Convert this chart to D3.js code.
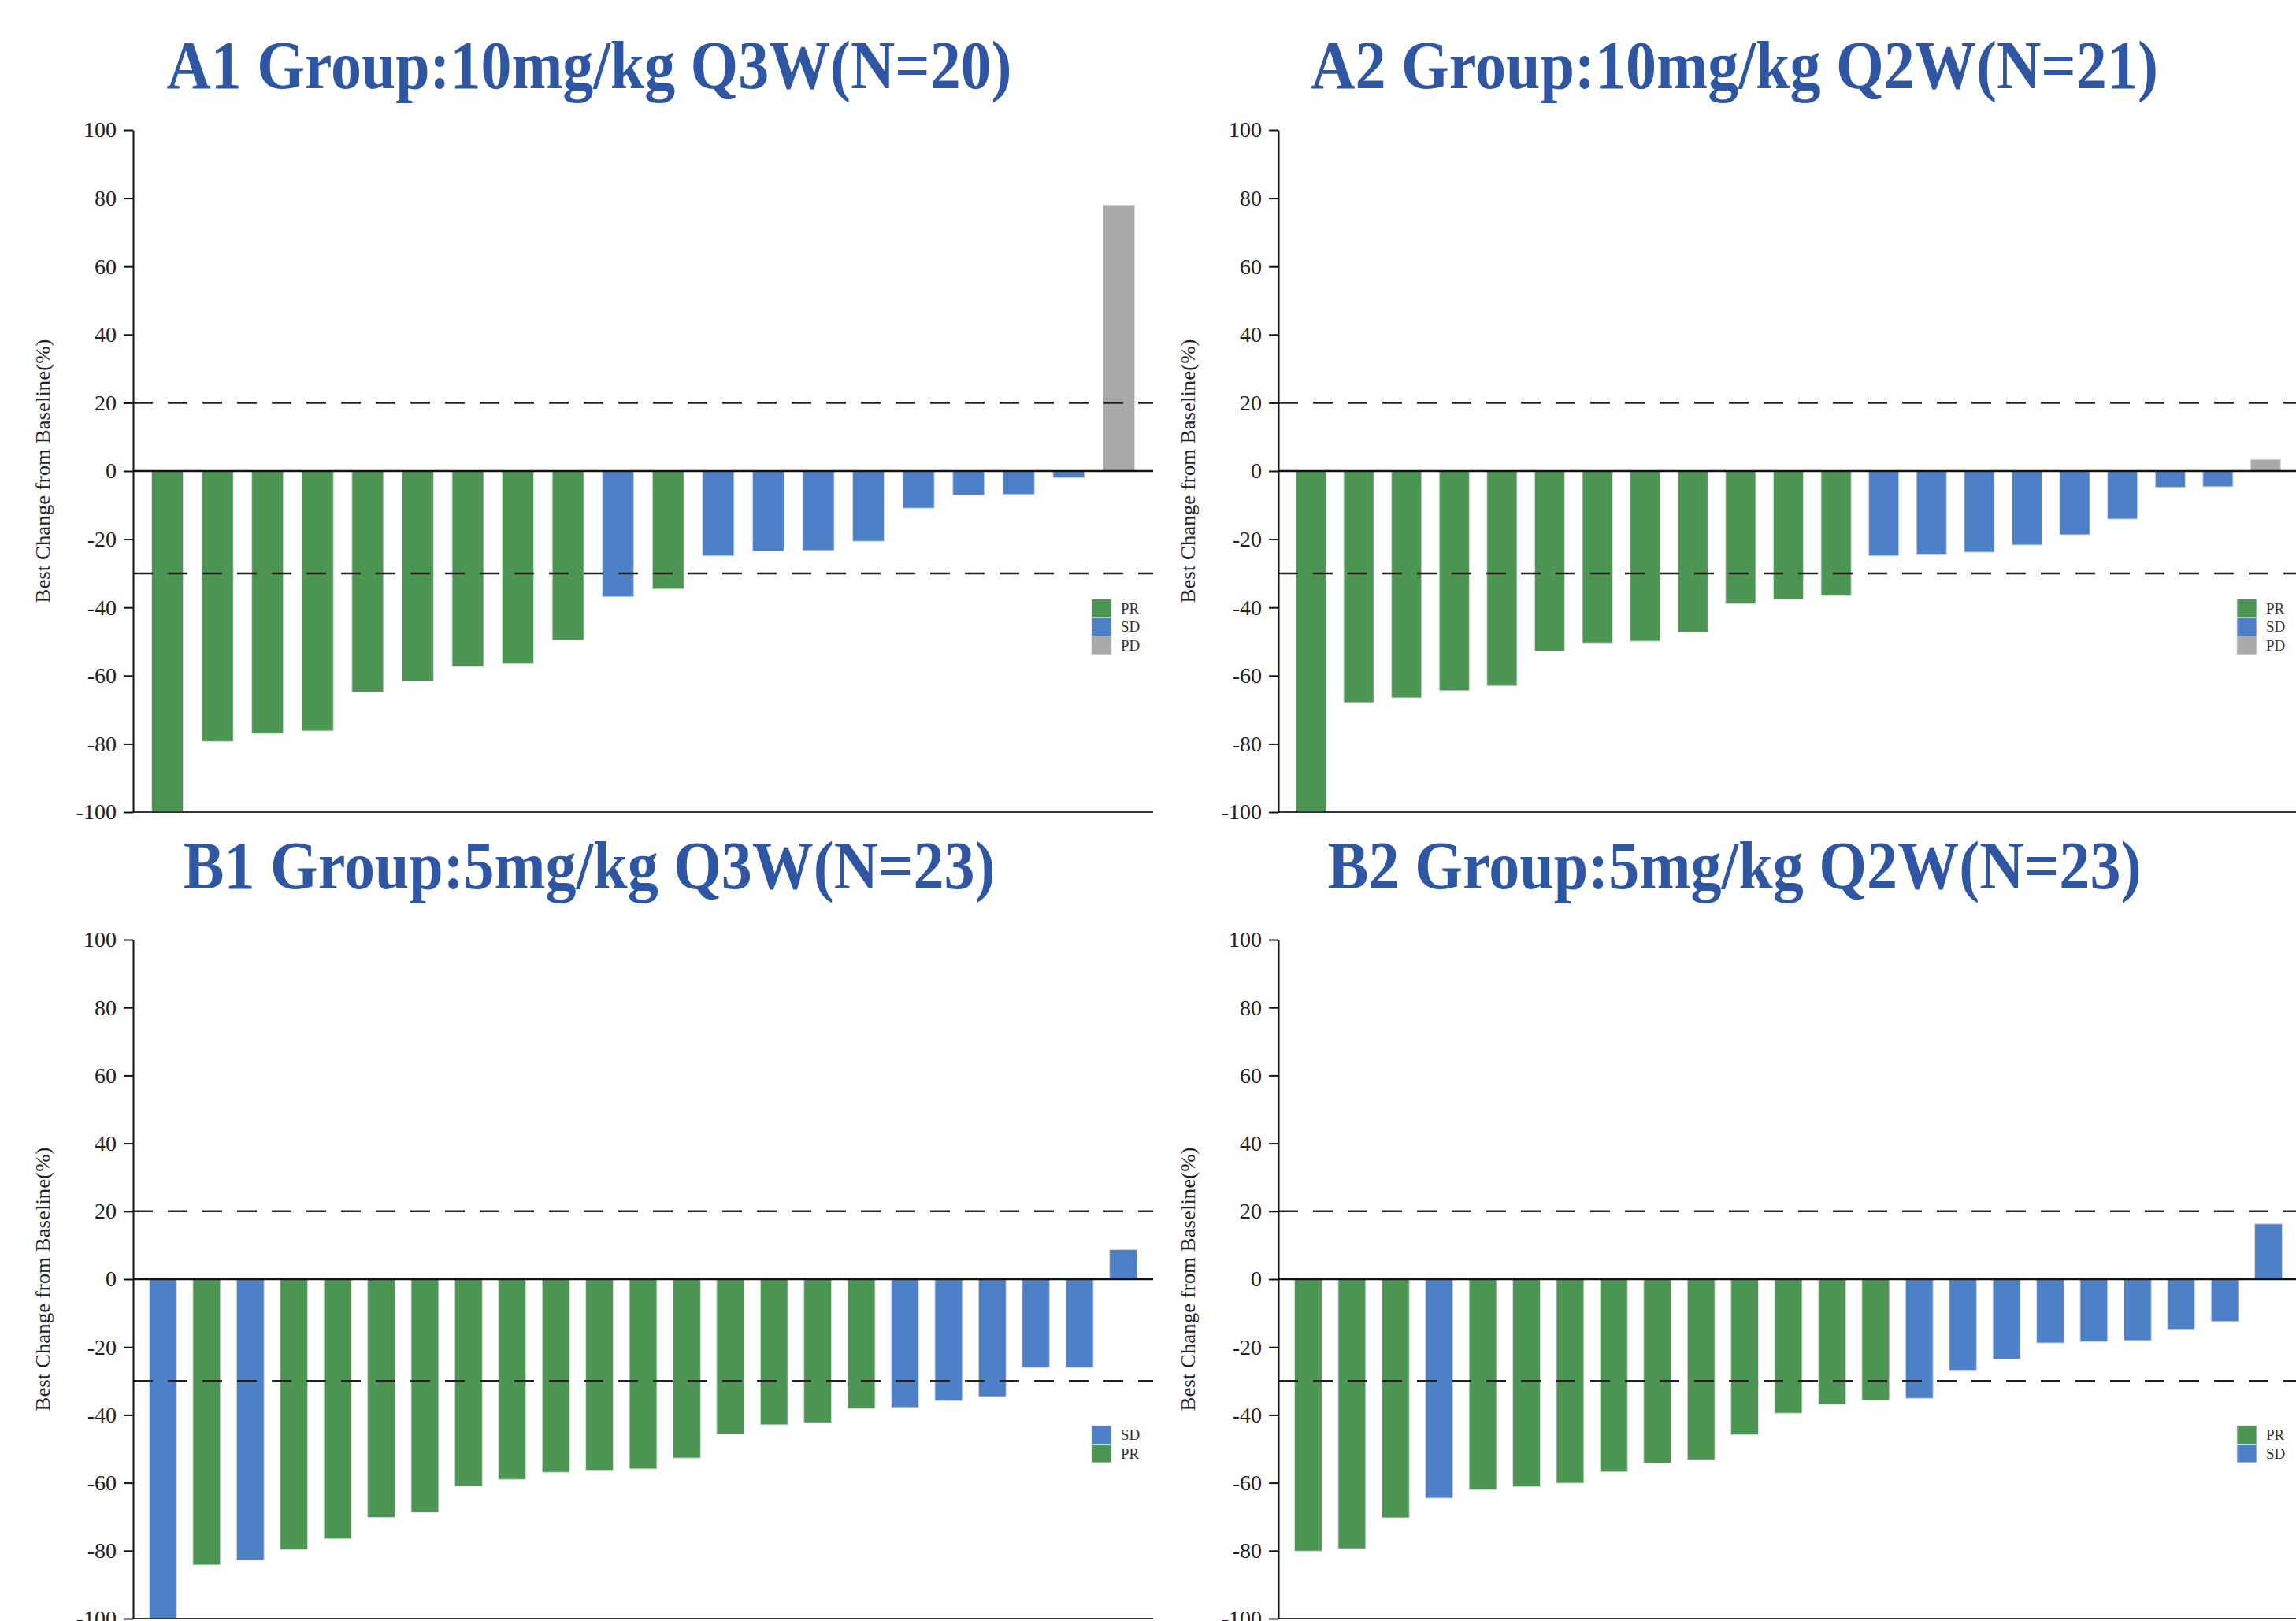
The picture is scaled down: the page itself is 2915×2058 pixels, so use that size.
<!DOCTYPE html>
<html>
<head>
<meta charset="utf-8">
<script src="https://d3js.org/d3.v7.min.js"></script>
<style>
    body { margin: 0; background: #fff; }
    svg text { font-family: "Liberation Serif", "Times New Roman", serif; }
    .axis path, .axis line { stroke: #111; stroke-width: 2px; }
    .axis text { font-size: 28px; fill: #222; }
    .title { font-size: 86px; font-weight: bold; fill: #2e56a3; }
    .ylabel { font-size: 25px; fill: #222; }
    .legend text { font-size: 19px; fill: #333; }
</style>
</head>
<body>
<div id="chart"></div>
<script>

// best change from baseline (%) per patient, in display order
var a1Values = [-100, -79.3, -77, -76.2, -64.8, -61.6, -57.3, -56.5, -49.6, -36.9,
                -34.6, -24.9, -23.5, -23.3, -20.6, -10.9, -7.1, -6.9, -2, 78];
var a1Types  = ["PR","PR","PR","PR","PR","PR","PR","PR","PR","SD",
                "PR","SD","SD","SD","SD","SD","SD","SD","SD","PD"];

var a2Values = [-100, -67.9, -66.5, -64.4, -63, -52.8, -50.4, -49.9, -47.3, -38.9,
                -37.6, -36.6, -24.9, -24.4, -23.8, -21.7, -18.7, -14.1, -4.8, -4.6, 3.4];
var a2Types  = ["PR","PR","PR","PR","PR","PR","PR","PR","PR","PR",
                "PR","PR","SD","SD","SD","SD","SD","SD","SD","SD","PD"];

var b1Values = [-100, -84.2, -82.8, -79.7, -76.5, -70.2, -68.7, -61, -59, -56.9, -56.3, -55.9,
                -52.7, -45.6, -42.9, -42.3, -38.1, -37.8, -35.8, -34.6, -26.1, -26.1, 8.7];
var b1Types  = ["SD","PR","SD","PR","PR","PR","PR","PR","PR","PR","PR","PR",
                "PR","PR","PR","PR","PR","SD","SD","SD","SD","SD","SD"];

var b2Values = [-80.1, -79.4, -70.3, -64.5, -62, -61.1, -60.1, -56.8, -54.2, -53.2, -45.8, -39.5,
                -36.9, -35.7, -35.1, -26.8, -23.6, -18.8, -18.4, -18.1, -14.8, -12.5, 16.3];
var b2Types  = ["PR","PR","PR","SD","PR","PR","PR","PR","PR","PR","PR","PR",
                "PR","PR","SD","SD","SD","SD","SD","SD","SD","SD","SD"];

var yTicks = [100, 80, 60, 40, 20, 0, -20, -40, -60, -80, -100];
var refLines = [20, -30];

var colors = {PR: "#4c9553", SD: "#4e80c7", PD: "#a9a9a9"};

var panels = [
    {title: "A1 Group:10mg/kg Q3W(N=20)", values: a1Values, types: a1Types,
     legend: ["PR", "SD", "PD"], left: 169, top: 165, bottom: 1031, titleY: 112, titleLen: 1073},
    {title: "A2 Group:10mg/kg Q2W(N=21)", values: a2Values, types: a2Types,
     legend: ["PR", "SD", "PD"], left: 1623, top: 165, bottom: 1031, titleY: 112, titleLen: 1076},
    {title: "B1 Group:5mg/kg Q3W(N=23)", values: b1Values, types: b1Types,
     legend: ["SD", "PR"], left: 169, top: 1193, bottom: 2055, titleY: 1128, titleLen: 1031},
    {title: "B2 Group:5mg/kg Q2W(N=23)", values: b2Values, types: b2Types,
     legend: ["PR", "SD"], left: 1623, top: 1193, bottom: 2055, titleY: 1128, titleLen: 1033}
];

var plotWidth = 1295;

var svg = d3.select("#chart").append("svg")
    .attr("width", 2915)
    .attr("height", 2058);

panels.forEach(function(p) {
    var g = svg.append("g");
    var right = p.left + plotWidth;

    var x = d3.scaleBand()
        .domain(d3.range(p.values.length))
        .range([p.left, right])
        .padding(0.37);

    var y = d3.scaleLinear()
        .domain([-100, 100])
        .range([p.bottom, p.top]);

    // bars
    g.selectAll("rect.bar")
        .data(p.values)
        .enter().append("rect")
        .attr("class", "bar")
        .attr("x", function(d, i) { return x(i); })
        .attr("y", function(d) { return y(Math.max(0, d)); })
        .attr("width", x.bandwidth())
        .attr("height", function(d) { return Math.abs(y(d) - y(0)); })
        .attr("fill", function(d, i) { return colors[p.types[i]]; })
        .attr("stroke", "#dcdcdc")
        .attr("stroke-width", 1);

    // reference lines
    g.selectAll("line.ref")
        .data(refLines)
        .enter().append("line")
        .attr("class", "ref")
        .attr("x1", p.left).attr("x2", right)
        .attr("y1", function(d) { return y(d); })
        .attr("y2", function(d) { return y(d); })
        .attr("stroke", "#222")
        .attr("stroke-width", 2.5)
        .attr("stroke-dasharray", "25,19");

    // zero line and bottom line
    g.append("line")
        .attr("x1", p.left).attr("x2", right)
        .attr("y1", y(0)).attr("y2", y(0))
        .attr("stroke", "#111")
        .attr("stroke-width", 2.5);
    g.append("line")
        .attr("x1", p.left).attr("x2", right)
        .attr("y1", y(-100)).attr("y2", y(-100))
        .attr("stroke", "#333")
        .attr("stroke-width", 2);

    // y axis
    g.append("g")
        .attr("class", "axis")
        .attr("transform", "translate(" + p.left + ",0)")
        .call(d3.axisLeft(y)
            .tickValues(yTicks)
            .tickSize(12)
            .tickSizeOuter(0)
            .tickPadding(9)
            .tickFormat(function(d) { return String(d); }));

    g.append("text")
        .attr("class", "ylabel")
        .attr("transform", "translate(" + (p.left - 106) + "," + y(0) + ") rotate(-90)")
        .attr("text-anchor", "middle")
        .attr("textLength", 335)
        .attr("lengthAdjust", "spacingAndGlyphs")
        .text("Best Change from Baseline(%)");

    // title
    g.append("text")
        .attr("class", "title")
        .attr("x", p.left + 579)
        .attr("y", p.titleY)
        .attr("text-anchor", "middle")
        .attr("textLength", p.titleLen)
        .attr("lengthAdjust", "spacingAndGlyphs")
        .text(p.title);

    // legend, anchored at its bottom edge
    var sw = 25, sh = 23.5;
    var legBottom = y(0) + 233;
    var leg = g.append("g")
        .attr("class", "legend")
        .attr("transform", "translate(" + (p.left + 1217) + "," + (legBottom - sh * p.legend.length) + ")");
    var item = leg.selectAll("g")
        .data(p.legend)
        .enter().append("g")
        .attr("transform", function(d, i) { return "translate(0," + (i * sh) + ")"; });
    item.append("rect")
        .attr("width", sw)
        .attr("height", sh)
        .attr("fill", function(d) { return colors[d]; })
        .attr("stroke", "#dcdcdc")
        .attr("stroke-width", 1);
    item.append("text")
        .attr("x", sw + 12)
        .attr("y", sh / 2 + 6.5)
        .text(function(d) { return d; });
});

</script>
</body>
</html>
